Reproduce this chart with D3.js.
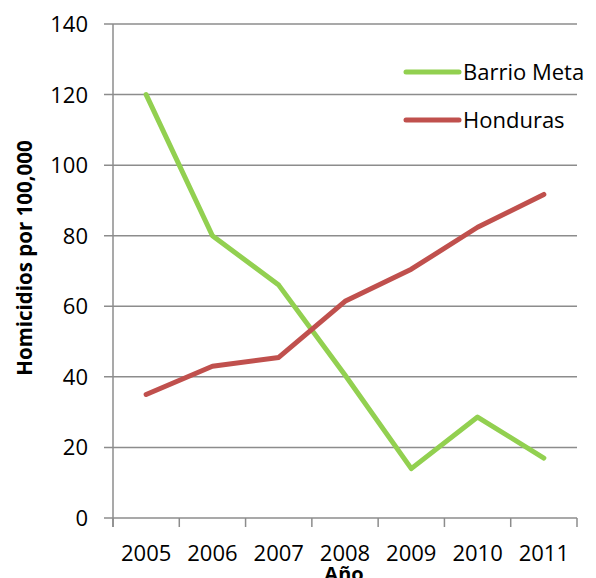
<!DOCTYPE html>
<html>
<head>
<meta charset="utf-8">
<script src="https://cdn.jsdelivr.net/npm/d3@7"></script>
<style>
  body { margin: 0; background: #fff; }
  text { font-family: "Open Sans", Lato, sans-serif; fill: #000; }
</style>
</head>
<body>
<svg id="chart" width="596" height="578"></svg>
<script>
const years = ['2005', '2006', '2007', '2008', '2009', '2010', '2011'];
const barrioMeta = [120, 80, 66, 40.5, 14, 28.6, 17];
const honduras = [35, 43, 45.5, 61.4, 70.5, 82.4, 91.7];
const yTicks = [0, 20, 40, 60, 80, 100, 120, 140];
const seriesNames = ['Barrio Meta', 'Honduras'];
const seriesColors = ['#92d050', '#c0504d'];

const svg = d3.select('#chart');
const plotLeft = 113, plotRight = 577, plotTop = 24, plotBottom = 518;

const x = d3.scaleBand().domain(years).range([plotLeft, plotRight]);
const y = d3.scaleLinear().domain([0, 140]).range([plotBottom, plotTop]);

// gridlines + y ticks
svg.append('g')
  .selectAll('line')
  .data(yTicks)
  .enter().append('line')
    .attr('x1', plotLeft - 9)
    .attr('x2', plotRight)
    .attr('y1', d => y(d))
    .attr('y2', d => y(d))
    .attr('stroke', '#8c8c8c')
    .attr('stroke-width', 1.5);

svg.append('g')
  .selectAll('text')
  .data(yTicks)
  .enter().append('text')
    .attr('x', 88)
    .attr('y', d => y(d) + 8)
    .attr('text-anchor', 'end')
    .attr('font-size', 22)
    .text(d => d);

// y axis line
svg.append('line')
  .attr('x1', plotLeft).attr('x2', plotLeft)
  .attr('y1', plotTop).attr('y2', plotBottom + 9)
  .attr('stroke', '#8c8c8c').attr('stroke-width', 1.5);

// x ticks at category edges
const edges = years.map(d => x(d)).concat([x(years[years.length - 1]) + x.bandwidth()]);
svg.append('g')
  .selectAll('line')
  .data(edges)
  .enter().append('line')
    .attr('x1', d => d).attr('x2', d => d)
    .attr('y1', plotBottom).attr('y2', plotBottom + 9)
    .attr('stroke', '#8c8c8c').attr('stroke-width', 1.5);

svg.append('g')
  .selectAll('text')
  .data(years)
  .enter().append('text')
    .attr('x', d => x(d) + x.bandwidth() / 2)
    .attr('y', 561)
    .attr('text-anchor', 'middle')
    .attr('font-size', 22)
    .text(d => d);

// axis titles
svg.append('text')
  .attr('transform', 'translate(32,258) rotate(-90)')
  .attr('text-anchor', 'middle')
  .attr('font-size', 20.5)
  .attr('font-weight', 'bold')
  .text('Homicidios por 100,000');

svg.append('text')
  .attr('x', 344)
  .attr('y', 581)
  .attr('text-anchor', 'middle')
  .attr('font-size', 20)
  .attr('font-weight', 'bold')
  .text('Año');

// lines
const line = d3.line()
  .x((d, i) => x(years[i]) + x.bandwidth() / 2)
  .y(d => y(d));

[barrioMeta, honduras].forEach((s, i) => {
  svg.append('path')
    .datum(s)
    .attr('d', line)
    .attr('fill', 'none')
    .attr('stroke', seriesColors[i])
    .attr('stroke-width', 5)
    .attr('stroke-linejoin', 'round')
    .attr('stroke-linecap', 'round');
});

// legend
const legend = svg.append('g');
seriesNames.forEach((name, i) => {
  const ly = 72 + i * 48;
  legend.append('line')
    .attr('x1', 406).attr('x2', 459)
    .attr('y1', ly).attr('y2', ly)
    .attr('stroke', seriesColors[i])
    .attr('stroke-width', 5)
    .attr('stroke-linecap', 'round');
  legend.append('text')
    .attr('x', 463)
    .attr('y', ly + 8)
    .attr('font-size', 22)
    .text(name);
});
</script>
</body>
</html>
